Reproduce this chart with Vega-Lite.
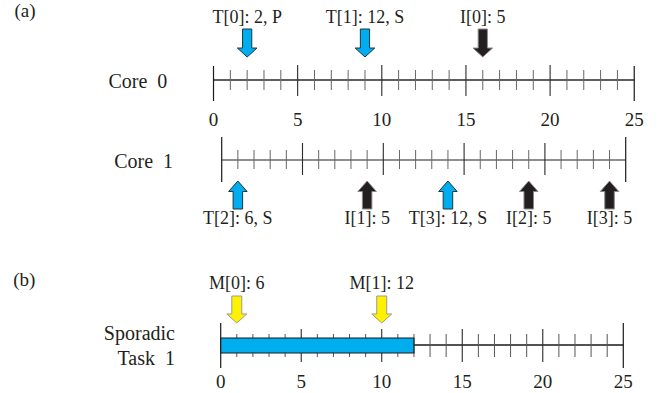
{
  "$schema": "https://vega.github.io/schema/vega-lite/v6.json",
  "width": 657,
  "height": 393,
  "autosize": {"type": "none"},
  "padding": 0,
  "background": "white",
  "config": {
    "view": {"stroke": null},
    "text": {"font": "Liberation Serif", "fontSize": 19, "fill": "#231F20"}
  },
  "datasets": {
    "ticks": [
      {"t": 0, "kind": "end"}, {"t": 1, "kind": "minor"}, {"t": 2, "kind": "minor"}, {"t": 3, "kind": "minor"}, {"t": 4, "kind": "minor"},
      {"t": 5, "kind": "major"}, {"t": 6, "kind": "minor"}, {"t": 7, "kind": "minor"}, {"t": 8, "kind": "minor"}, {"t": 9, "kind": "minor"},
      {"t": 10, "kind": "major"}, {"t": 11, "kind": "minor"}, {"t": 12, "kind": "minor"}, {"t": 13, "kind": "minor"}, {"t": 14, "kind": "minor"},
      {"t": 15, "kind": "major"}, {"t": 16, "kind": "minor"}, {"t": 17, "kind": "minor"}, {"t": 18, "kind": "minor"}, {"t": 19, "kind": "minor"},
      {"t": 20, "kind": "major"}, {"t": 21, "kind": "minor"}, {"t": 22, "kind": "minor"}, {"t": 23, "kind": "minor"}, {"t": 24, "kind": "minor"},
      {"t": 25, "kind": "end"}
    ],
    "events": [
      {"track": "Core 0", "t": 2, "kind": "task", "label": "T[0]: 2, P"},
      {"track": "Core 0", "t": 9, "kind": "task", "label": "T[1]: 12, S"},
      {"track": "Core 0", "t": 16, "kind": "interrupt", "label": "I[0]: 5"},
      {"track": "Core 1", "t": 1, "kind": "task", "label": "T[2]: 6, S"},
      {"track": "Core 1", "t": 9, "kind": "interrupt", "label": "I[1]: 5"},
      {"track": "Core 1", "t": 14, "kind": "task", "label": "T[3]: 12, S"},
      {"track": "Core 1", "t": 19, "kind": "interrupt", "label": "I[2]: 5"},
      {"track": "Core 1", "t": 24, "kind": "interrupt", "label": "I[3]: 5"},
      {"track": "Sporadic Task 1", "t": 1, "kind": "message", "label": "M[0]: 6"},
      {"track": "Sporadic Task 1", "t": 10, "kind": "message", "label": "M[1]: 12"}
    ],
    "busy": [{"track": "Sporadic Task 1", "start": 0, "end": 12}],
    "tracks": [
      {"track": "Core 0", "lines": ["Core\u20020"], "panel": "(a)"},
      {"track": "Core 1", "lines": ["Core\u20021"], "panel": ""},
      {"track": "Sporadic Task 1", "lines": ["Sporadic", "Task\u20021"], "panel": "(b)"}
    ]
  },
  "resolve": {"scale": {"x": "independent"}},
  "layer": [
    {
      "layer": [
        {
          "data": {"name": "ticks"},
          "mark": {"type": "rule", "color": "#2a2a2a", "strokeWidth": 1.3},
          "encoding": {
            "x": {"field": "t", "aggregate": "min", "type": "quantitative", "scale": {"domain": [-12.686, 26.352], "nice": false, "zero": false}, "axis": null},
            "x2": {"field": "t", "aggregate": "max"},
            "y": {"datum": 8.0, "type": "quantitative", "scale": {"domain": [0, 39.3], "reverse": true, "nice": false, "zero": false}, "axis": null}
          }
        },
        {
          "data": {"name": "ticks"},
          "transform": [{"filter": "datum.kind === 'minor'"}],
          "mark": {"type": "rule", "color": "#666666", "strokeWidth": 1},
          "encoding": {"x": {"field": "t", "type": "quantitative"}, "y": {"datum": 7.0}, "y2": {"datum": 9.0}}
        },
        {
          "data": {"name": "ticks"},
          "transform": [{"filter": "datum.kind === 'major'"}],
          "mark": {"type": "rule", "color": "#2a2a2a", "strokeWidth": 1.1},
          "encoding": {"x": {"field": "t", "type": "quantitative"}, "y": {"datum": 6.5}, "y2": {"datum": 9.6}}
        },
        {
          "data": {"name": "ticks"},
          "transform": [{"filter": "datum.kind === 'end'"}],
          "mark": {"type": "rule", "color": "#1a1a1a", "strokeWidth": 1.2},
          "encoding": {"x": {"field": "t", "type": "quantitative"}, "y": {"datum": 6.6}, "y2": {"datum": 10.1}}
        },
        {
          "data": {"name": "ticks"},
          "transform": [{"filter": "datum.t % 5 === 0"}],
          "mark": {"type": "text", "align": "center", "baseline": "alphabetic", "fontSize": 19},
          "encoding": {"x": {"field": "t", "type": "quantitative"}, "text": {"field": "t", "type": "quantitative"}, "y": {"datum": 12.6}}
        },
        {
          "data": {"name": "events"},
          "transform": [{"filter": "datum.track === 'Core 0'"}],
          "mark": {"type": "point", "shape": "M-0.33,-1L0.33,-1L0.33,0.36L0.7,0.36L0,1L-0.7,0.36L-0.33,0.36Z", "size": 784, "filled": true, "opacity": 1, "strokeWidth": 1},
          "encoding": {
            "x": {"field": "t", "type": "quantitative"},
            "y": {"datum": 4.3},
            "fill": {"field": "kind", "type": "nominal", "scale": {"domain": ["task", "interrupt", "message"], "range": ["#00AEEF", "#231F20", "#FFF200"]}, "legend": null},
            "stroke": {"field": "kind", "type": "nominal", "scale": {"domain": ["task", "interrupt", "message"], "range": ["#1f3340", "#8a8a8a", "#9a9a9a"]}, "legend": null}
          }
        },
        {
          "data": {"name": "events"},
          "transform": [{"filter": "datum.track === 'Core 0'"}],
          "mark": {"type": "text", "align": "center", "baseline": "alphabetic", "fontSize": 18},
          "encoding": {"x": {"field": "t", "type": "quantitative"}, "text": {"field": "label", "type": "nominal"}, "y": {"datum": 2.28}}
        },
        {
          "data": {"name": "tracks"},
          "transform": [{"filter": "datum.track === 'Core 0'"}],
          "mark": {"type": "text", "align": "right", "baseline": "alphabetic", "fontSize": 20},
          "encoding": {"text": {"field": "lines", "type": "nominal"}, "x": {"datum": -2.745, "type": "quantitative"}, "y": {"datum": 8.83, "type": "quantitative"}}
        },
        {
          "data": {"name": "tracks"},
          "transform": [{"filter": "datum.track === 'Core 0'"}],
          "mark": {"type": "text", "align": "center", "baseline": "alphabetic", "fontSize": 19},
          "encoding": {"text": {"field": "panel", "type": "nominal"}, "x": {"datum": -11.2, "type": "quantitative"}, "y": {"datum": 1.7, "type": "quantitative"}}
        }
      ]
    },
    {
      "layer": [
        {
          "data": {"name": "ticks"},
          "mark": {"type": "rule", "color": "#6a6a6a", "strokeWidth": 1.3},
          "encoding": {
            "x": {"field": "t", "aggregate": "min", "type": "quantitative", "scale": {"domain": [-13.719, 26.937], "nice": false, "zero": false}, "axis": null},
            "x2": {"field": "t", "aggregate": "max"},
            "y": {"datum": 16.0}
          }
        },
        {
          "data": {"name": "ticks"},
          "transform": [{"filter": "datum.kind === 'minor'"}],
          "mark": {"type": "rule", "color": "#666666", "strokeWidth": 1},
          "encoding": {"x": {"field": "t", "type": "quantitative"}, "y": {"datum": 15.0}, "y2": {"datum": 16.9}}
        },
        {
          "data": {"name": "ticks"},
          "transform": [{"filter": "datum.kind === 'major'"}],
          "mark": {"type": "rule", "color": "#2a2a2a", "strokeWidth": 1.1},
          "encoding": {"x": {"field": "t", "type": "quantitative"}, "y": {"datum": 14.3}, "y2": {"datum": 17.5}}
        },
        {
          "data": {"name": "ticks"},
          "transform": [{"filter": "datum.kind === 'end'"}],
          "mark": {"type": "rule", "color": "#1a1a1a", "strokeWidth": 1.2},
          "encoding": {"x": {"field": "t", "type": "quantitative"}, "y": {"datum": 13.7}, "y2": {"datum": 18.2}}
        },
        {
          "data": {"name": "events"},
          "transform": [{"filter": "datum.track === 'Core 1'"}],
          "mark": {"type": "point", "shape": "M0,-1L0.66,-0.25L0.34,-0.25L0.34,1L-0.34,1L-0.34,-0.25L-0.66,-0.25Z", "size": 784, "filled": true, "opacity": 1, "strokeWidth": 1},
          "encoding": {
            "x": {"field": "t", "type": "quantitative"},
            "y": {"datum": 19.5},
            "fill": {"field": "kind", "type": "nominal", "legend": null},
            "stroke": {"field": "kind", "type": "nominal", "legend": null}
          }
        },
        {
          "data": {"name": "events"},
          "transform": [{"filter": "datum.track === 'Core 1'"}],
          "mark": {"type": "text", "align": "center", "baseline": "alphabetic", "fontSize": 18},
          "encoding": {"x": {"field": "t", "type": "quantitative"}, "text": {"field": "label", "type": "nominal"}, "y": {"datum": 22.4}}
        },
        {
          "data": {"name": "tracks"},
          "transform": [{"filter": "datum.track === 'Core 1'"}],
          "mark": {"type": "text", "align": "right", "baseline": "alphabetic", "fontSize": 20},
          "encoding": {"text": {"field": "lines", "type": "nominal"}, "x": {"datum": -3.01, "type": "quantitative"}, "y": {"datum": 16.8, "type": "quantitative"}}
        }
      ]
    },
    {
      "layer": [
        {
          "data": {"name": "ticks"},
          "mark": {"type": "rule", "color": "#1a1a1a", "strokeWidth": 1.3},
          "encoding": {
            "x": {"field": "t", "aggregate": "min", "type": "quantitative", "scale": {"domain": [-13.705, 27.093], "nice": false, "zero": false}, "axis": null},
            "x2": {"field": "t", "aggregate": "max"},
            "y": {"datum": 34.5}
          }
        },
        {
          "data": {"name": "ticks"},
          "transform": [{"filter": "datum.kind === 'minor'"}],
          "mark": {"type": "rule", "color": "#555555", "strokeWidth": 1},
          "encoding": {"x": {"field": "t", "type": "quantitative"}, "y": {"datum": 33.4}, "y2": {"datum": 35.7}}
        },
        {
          "data": {"name": "ticks"},
          "transform": [{"filter": "datum.kind === 'major'"}],
          "mark": {"type": "rule", "color": "#2a2a2a", "strokeWidth": 1.1},
          "encoding": {"x": {"field": "t", "type": "quantitative"}, "y": {"datum": 32.9}, "y2": {"datum": 36.2}}
        },
        {
          "data": {"name": "ticks"},
          "transform": [{"filter": "datum.kind === 'end'"}],
          "mark": {"type": "rule", "color": "#1a1a1a", "strokeWidth": 1.2},
          "encoding": {"x": {"field": "t", "type": "quantitative"}, "y": {"datum": 32.3}, "y2": {"datum": 36.8}}
        },
        {
          "data": {"name": "busy"},
          "mark": {"type": "rect", "fill": "#00AEEF", "stroke": "#1a1a1a", "strokeWidth": 1.2},
          "encoding": {
            "x": {"field": "start", "type": "quantitative"},
            "x2": {"field": "end"},
            "y": {"datum": 33.8},
            "y2": {"datum": 35.3}
          }
        },
        {
          "data": {"name": "ticks"},
          "transform": [{"filter": "datum.t % 5 === 0"}],
          "mark": {"type": "text", "align": "center", "baseline": "alphabetic", "fontSize": 19},
          "encoding": {"x": {"field": "t", "type": "quantitative"}, "text": {"field": "t", "type": "quantitative"}, "y": {"datum": 38.8}}
        },
        {
          "data": {"name": "events"},
          "transform": [{"filter": "datum.track === 'Sporadic Task 1'"}],
          "mark": {"type": "point", "shape": "M-0.37,-1L0.37,-1L0.37,0.33L0.74,0.33L0,1L-0.74,0.33L-0.37,0.33Z", "size": 729, "filled": true, "opacity": 1, "strokeWidth": 1},
          "encoding": {
            "x": {"field": "t", "type": "quantitative"},
            "y": {"datum": 30.95},
            "fill": {"field": "kind", "type": "nominal", "legend": null},
            "stroke": {"field": "kind", "type": "nominal", "legend": null}
          }
        },
        {
          "data": {"name": "events"},
          "transform": [{"filter": "datum.track === 'Sporadic Task 1'"}],
          "mark": {"type": "text", "align": "center", "baseline": "alphabetic", "fontSize": 18},
          "encoding": {"x": {"field": "t", "type": "quantitative"}, "text": {"field": "label", "type": "nominal"}, "y": {"datum": 28.85}}
        },
        {
          "data": {"name": "tracks"},
          "transform": [{"filter": "datum.track === 'Sporadic Task 1'"}],
          "mark": {"type": "text", "align": "right", "baseline": "alphabetic", "fontSize": 20, "lineHeight": 25},
          "encoding": {"text": {"field": "lines", "type": "nominal"}, "x": {"datum": -2.84, "type": "quantitative"}, "y": {"datum": 34.0, "type": "quantitative"}}
        },
        {
          "data": {"name": "tracks"},
          "transform": [{"filter": "datum.track === 'Sporadic Task 1'"}],
          "mark": {"type": "text", "align": "center", "baseline": "alphabetic", "fontSize": 19},
          "encoding": {"text": {"field": "panel", "type": "nominal"}, "x": {"datum": -12.2, "type": "quantitative"}, "y": {"datum": 28.6, "type": "quantitative"}}
        }
      ]
    }
  ]
}
